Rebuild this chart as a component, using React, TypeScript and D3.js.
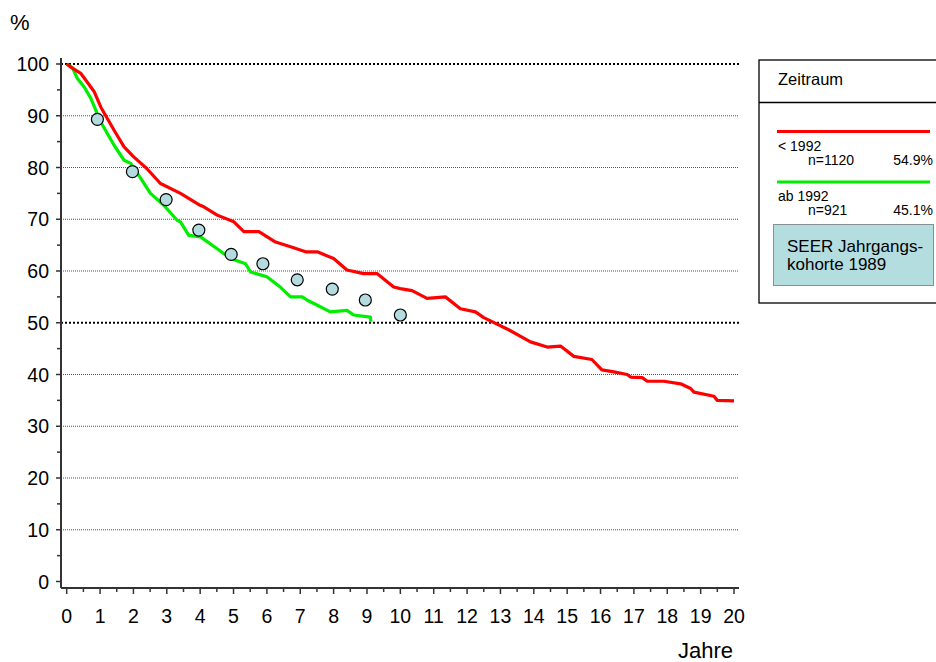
import React from "react";
import * as d3 from "d3";

// Überlebenskurven (Kaplan-Meier), Werte
const redT = [0, 0.1, 0.42, 0.82, 1.02, 1.42, 1.72, 2.0, 2.4, 2.81, 3.41, 4.0, 4.11, 4.51, 5.01, 5.31, 5.76, 6.26, 6.71, 7.16, 7.51, 8.0, 8.4, 8.9, 9.3, 9.8, 10.0, 10.35, 10.8, 11.35, 11.8, 12.25, 12.5, 13.2, 13.9, 14.4, 14.8, 15.2, 15.74, 16.04, 16.4, 16.8, 16.9, 17.25, 17.4, 17.9, 18.4, 18.7, 18.8, 19.4, 19.5, 20];
const redV = [100, 99.5, 98.2, 94.7, 91.7, 87.2, 84.0, 82.1, 79.8, 76.9, 75.0, 72.7, 72.4, 70.8, 69.5, 67.6, 67.6, 65.6, 64.7, 63.7, 63.7, 62.4, 60.2, 59.5, 59.5, 56.9, 56.6, 56.2, 54.7, 55.0, 52.7, 52.1, 51.0, 48.8, 46.3, 45.3, 45.5, 43.5, 42.9, 40.9, 40.5, 40.0, 39.5, 39.4, 38.7, 38.7, 38.2, 37.3, 36.6, 35.8, 35.0, 34.9];

const greenT = [0, 0.17, 0.32, 0.52, 0.72, 1.02, 1.42, 1.72, 1.92, 2.22, 2.51, 2.91, 3.31, 3.41, 3.66, 4.01, 4.51, 4.91, 5.36, 5.51, 6.0, 6.4, 6.71, 7.06, 7.2, 7.6, 7.9, 8.4, 8.6, 9.1, 9.12];
const greenV = [100, 99.3, 97.2, 95.6, 93.4, 88.8, 84.3, 81.4, 80.8, 77.9, 75.0, 72.7, 69.8, 69.5, 66.9, 66.6, 64.3, 62.4, 61.4, 59.8, 58.9, 56.9, 55.0, 55.0, 54.4, 53.1, 52.1, 52.4, 51.5, 51.1, 50.2];

const seerT = [0.92, 1.97, 2.98, 3.96, 4.93, 5.88, 6.91, 7.96, 8.95, 10.0];
const seerV = [89.3, 79.2, 73.8, 67.9, 63.2, 61.4, 58.3, 56.5, 54.4, 51.5];

const yTicks = [0, 10, 20, 30, 40, 50, 60, 70, 80, 90, 100];
const xTicks = d3.range(0, 21);

const font = "Arial, 'Liberation Sans', sans-serif";

const x = d3.scaleLinear().domain([0, 20]).range([66.7, 734]);
const y = d3.scaleLinear().domain([0, 100]).range([581.5, 64]);

const line = d3
  .line<[number, number]>()
  .x((d) => x(d[0]))
  .y((d) => y(d[1]))
  .curve(d3.curveLinear);

const App = () => {
  const redPts = redT.map((t, i) => [t, redV[i]] as [number, number]);
  const greenPts = greenT.map((t, i) => [t, greenV[i]] as [number, number]);
  const axisY = 588;
  const axisX = 61;
  return (
    <svg
      width={936}
      height={662}
      style={{ position: "absolute", left: 0, top: 0, background: "white" }}
      fontFamily={font}
    >
      {/* gridlines */}
      {yTicks
        .filter((v) => v > 0)
        .map((v) => {
          const bold = v === 100 || v === 50;
          return (
            <line
              key={"g" + v}
              x1={axisX}
              x2={739}
              y1={y(v)}
              y2={y(v)}
              stroke={bold ? "#000" : "#555"}
              strokeWidth={bold ? 2 : 1}
              strokeDasharray={bold ? "2,2" : "1,1"}
            />
          );
        })}

      {/* axes */}
      <line x1={axisX} x2={axisX} y1={58} y2={axisY} stroke="#333" strokeWidth={2} />
      <line x1={axisX} x2={739} y1={axisY} y2={axisY} stroke="#333" strokeWidth={2} />
      {yTicks.map((v) => (
        <g key={"yt" + v}>
          <line x1={axisX - 5} x2={axisX} y1={y(v)} y2={y(v)} stroke="#333" strokeWidth={1.5} />
          {v < 100 && (
            <line x1={axisX - 4} x2={axisX} y1={y(v + 5)} y2={y(v + 5)} stroke="#333" strokeWidth={1.5} />
          )}
          <text x={49} y={y(v) + 7} fontSize={19.5} textAnchor="end" fill="#000">
            {v}
          </text>
        </g>
      ))}
      {xTicks.map((t) => (
        <g key={"xt" + t}>
          <line x1={x(t)} x2={x(t)} y1={axisY} y2={axisY + 6} stroke="#333" strokeWidth={1.5} />
          {t < 20 && (
            <line x1={x(t + 0.5)} x2={x(t + 0.5)} y1={axisY} y2={axisY + 4} stroke="#333" strokeWidth={1.5} />
          )}
          <text x={x(t)} y={623} fontSize={19.5} textAnchor="middle" fill="#000">
            {t}
          </text>
        </g>
      ))}
      <text x={10} y={30} fontSize={22} fill="#000">
        %
      </text>
      <text x={733} y={658} fontSize={22} textAnchor="end" fill="#000">
        Jahre
      </text>

      {/* curves */}
      <path d={line(greenPts) || ""} fill="none" stroke="#00ee00" strokeWidth={3.2} strokeLinejoin="round" />
      <path d={line(redPts) || ""} fill="none" stroke="#ff0000" strokeWidth={3.2} strokeLinejoin="round" />

      {/* SEER points */}
      {seerT.map((t, i) => (
        <circle key={"s" + i} cx={x(t)} cy={y(seerV[i])} r={6} fill="#b4dce0" stroke="#000" strokeWidth={1.2} />
      ))}

      {/* legend */}
      <g fill="#000">
        <rect x={759} y={60} width={200} height={243} fill="white" stroke="#000" strokeWidth={1.3} />
        <line x1={759} x2={936} y1={102.5} y2={102.5} stroke="#000" strokeWidth={1.3} />
        <text x={778} y={85} fontSize={16.5}>Zeitraum</text>
        <line x1={777} x2={930} y1={131.5} y2={131.5} stroke="#ff0000" strokeWidth={3} />
        <text x={778} y={151} fontSize={14}>&lt; 1992</text>
        <text x={808} y={165} fontSize={14}>n=1120</text>
        <text x={933} y={165} fontSize={14} textAnchor="end">54.9%</text>
        <line x1={777} x2={930} y1={182} y2={182} stroke="#00ee00" strokeWidth={3} />
        <text x={778} y={200.5} fontSize={14}>ab 1992</text>
        <text x={808} y={215} fontSize={14}>n=921</text>
        <text x={933} y={215} fontSize={14} textAnchor="end">45.1%</text>
        <rect x={773.5} y={224.5} width={160} height={61} fill="#b4dde0" stroke="#333" strokeWidth={1} strokeDasharray="1,1" />
        <text x={787} y={252} fontSize={17}>SEER Jahrgangs-</text>
        <text x={787} y={270} fontSize={17}>kohorte 1989</text>
      </g>
    </svg>
  );
};

export default App;
